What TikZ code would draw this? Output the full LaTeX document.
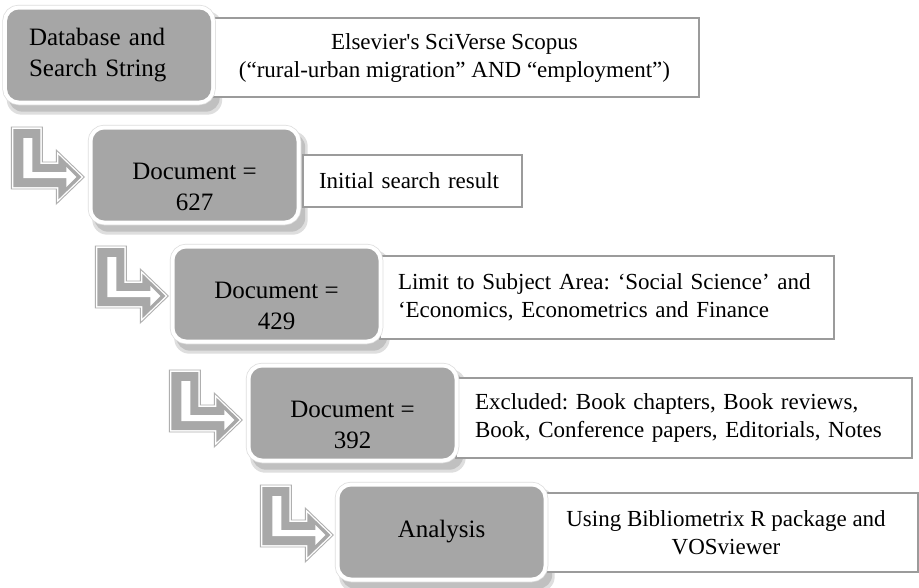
\documentclass[tikz,border=0pt]{standalone}
\usepackage{fontspec}
\setmainfont{Liberation Serif}
\usetikzlibrary{calc}
\pgfdeclarelayer{back}
\pgfdeclarelayer{shade}
\pgfsetlayers{back,shade,main}
\definecolor{boxgray}{RGB}{166,166,166}
\definecolor{rimline}{RGB}{222,222,222}
\definecolor{shadowlight}{RGB}{222,222,222}
\definecolor{shadowdark}{RGB}{192,192,192}
\definecolor{wline}{RGB}{155,155,155}
\definecolor{arrgray}{RGB}{168,168,168}
\definecolor{arrline}{RGB}{175,175,175}
\newcommand{\lowtwo}[2]{\smash{\raisebox{-20pt}{\begin{tabular}{@{}c@{}}#1\\#2\end{tabular}}}}
\tikzset{
  bentarrow/.pic={
    \draw[arrline, fill=white, line width=0.9pt, line join=miter]
      (-73,-50) -- (-42,-50) -- (-42,-15) -- (-28,-15) -- (-28,-27) -- (0,0)
      -- (-28,27) -- (-28,12) -- (-73,12) -- cycle;
    \fill[arrgray]
      (-71,-48) -- (-44,-48) -- (-44,-13) -- (-26,-13) -- (-26,-22.4) -- (-2.8,0)
      -- (-26,22.4) -- (-26,10) -- (-71,10) -- cycle;
    \fill[white]
      (-61,-39) -- (-52,-39) -- (-52,-5) -- (-18,-5) -- (-18,-10) -- (-8,0)
      -- (-18,10) -- (-18,1) -- (-61,1) -- cycle;
  }
}
\begin{document}
\begin{tikzpicture}[x=1pt,y=-1pt,
  gbox/.style={fill=boxgray, rounded corners=12pt, minimum width=204pt,
    minimum height=91pt, inner sep=0pt, align=center,
    font=\fontsize{25pt}{30.5pt}\selectfont,
    preaction={draw=rimline, line width=9.5pt},
    preaction={draw=white, line width=8pt}},
  wbox/.style={draw=wline, line width=1.3pt, fill=white, inner ysep=0pt,
    inner xsep=0pt, font=\fontsize{23pt}{28pt}\selectfont\frenchspacing},
]
\useasboundingbox (0,0) rectangle (919,587);
\begin{pgfonlayer}{back}
  \fill[white] (0,0) rectangle (919,587);
\end{pgfonlayer}

% white description boxes
\node[wbox, minimum width=489pt, minimum height=79pt, align=center] (w1) at (454.5,57.5)
  {Elsevier\textquotesingle s SciVerse Scopus\\(“rural-urban migration” AND “employment”)};
\node[wbox, minimum height=52pt, inner xsep=16pt, text width=187pt, align=left] (w2) at (412.5,181)
  {Initial search result};
\node[wbox, minimum height=83pt, inner xsep=18pt, text width=418pt, align=left] (w3) at (607,297.5)
  {Limit to Subject Area: ‘Social Science’ and\\‘Economics, Econometrics and Finance};
\node[wbox, minimum height=80pt, inner xsep=19pt, text width=418pt, align=left] (w4) at (684,418)
  {Excluded: Book chapters, Book reviews,\\Book, Conference papers, Editorials, Notes};
\node[wbox, minimum width=384pt, minimum height=79pt, align=center] (w5) at (726,532.5)
  {Using Bibliometrix R package and\\VOSviewer};

% grey step boxes
\node[gbox, align=left, inner xsep=22pt, text width=160pt] (g1) at (109,55) {Database and\\Search String};
\node[gbox] (g2) at (194.5,175) {\lowtwo{Document =}{627}};
\node[gbox] (g3) at (276.5,294) {\lowtwo{Document =}{429}};
\node[gbox] (g4) at (352.5,413) {\lowtwo{Document =}{392}};
\node[gbox] (g5) at (441.5,532) {Analysis};

% shadows
\begin{pgfonlayer}{shade}
\foreach \g in {g1,g2,g3,g4,g5} {
  \fill[shadowlight, rounded corners=15pt] ([shift={(0,2)}]\g.north west) rectangle ([shift={(11,14)}]\g.south east);
  \fill[shadowdark, rounded corners=14pt] ([shift={(2,4)}]\g.north west) rectangle ([shift={(8.5,11)}]\g.south east);
}
\end{pgfonlayer}

% bent arrows
\pic at ([shift={(-8,2)}]g2.west) {bentarrow};
\pic at ([shift={(-6,2)}]g3.west) {bentarrow};
\pic at ([shift={(-8,7)}]g4.west) {bentarrow};
\pic at ([shift={(-6,3)}]g5.west) {bentarrow};
\end{tikzpicture}
\end{document}
